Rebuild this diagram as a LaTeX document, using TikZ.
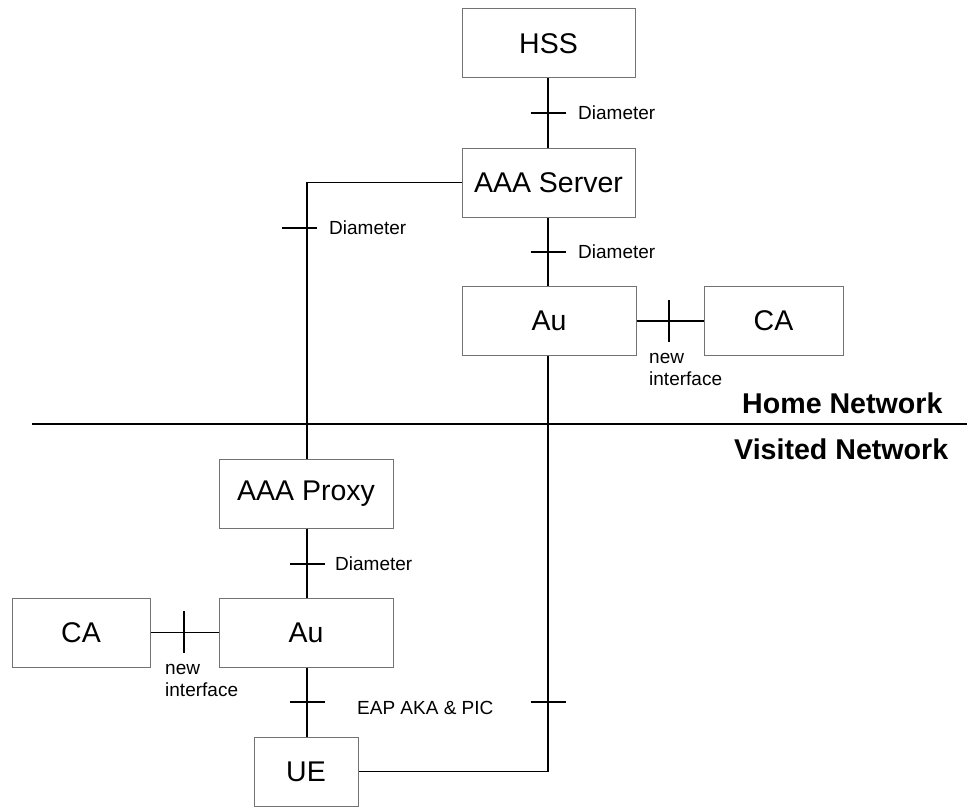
\documentclass[tikz,border=0pt]{standalone}
\usepackage{fontspec}
\setmainfont{Liberation Sans}
\usetikzlibrary{calc}
\begin{document}
\begin{tikzpicture}[x=1pt,y=-1pt,
  box/.style={draw=black!55,line width=1pt,inner sep=0pt,minimum height=69pt,font=\fontsize{28.5}{32}\selectfont},
  conn/.style={draw=black,line width=1.3pt},
  tickh/.style={draw=black,line width=1.3pt},
  lbl/.style={font=\fontsize{19}{22}\selectfont,inner sep=0pt,anchor=west},
  net/.style={font=\fontsize{28.6}{30}\selectfont\bfseries,inner sep=0pt,anchor=west}]
\useasboundingbox (0,0) rectangle (967,808);
% boxes
\node[box,minimum width=173pt] (hss) at (548.5,43.5) {HSS};
\node[box,minimum width=173pt] (aaa) at (548.5,182.5) {AAA Server};
\node[box,minimum width=174pt] (auh) at (549,321) {Au};
\node[box,minimum width=139pt] (cah) at (773.5,321) {CA};
\node[box,minimum width=174pt] (proxy) at (306,493.5) {AAA Proxy};
\node[box,minimum width=174pt] (auv) at (306,632.5) {Au};
\node[box,minimum width=138pt] (cav) at (81,632.5) {CA};
\node[box,minimum width=104pt] (ue) at (306,771.5) {UE};
% separator
\coordinate (sepL) at (32,424);
\coordinate (sepR) at (967,424);
\draw[draw=black,line width=2pt] (sepL) -- (sepR);
% corner coordinates
\coordinate (c1) at (307,182.5);
\coordinate (c2) at (548,771.5);
% connectors
\draw[conn] (hss.south -| 548,0) -- (aaa.north -| 548,0);
\draw[conn] (aaa.south -| 548,0) -- (auh.north -| 548,0);
\draw[conn] (aaa.west) -- (c1) -- (proxy.north -| 307,0);
\draw[conn] (auh.east) -- (cah.west);
\draw[conn] (auh.south -| 548,0) -- (c2) -- (ue.east);
\draw[conn] (proxy.south -| 307,0) -- (auv.north -| 307,0);
\draw[conn] (cav.east) -- (auv.west);
\draw[conn] (auv.south -| 307,0) -- (ue.north -| 307,0);
% ticks
\coordinate (t1) at (548,113);
\coordinate (t2) at (548,252);
\coordinate (t3) at (307,228);
\coordinate (t4) at (307,564);
\coordinate (t5) at (307,702);
\coordinate (t6) at (548,702);
\coordinate (t7) at (669,321);
\coordinate (t8) at (184,632);
\foreach \t in {t1,t2,t4,t5,t6}
  \draw[tickh] ($(\t)+(-17.5,0)$) -- ($(\t)+(17.5,0)$);
\draw[tickh] ($(t3)+(-25,0)$) -- ($(t3)+(10,0)$);
\foreach \t in {t7,t8}
  \draw[tickh] ($(\t)+(0,-21)$) -- ($(\t)+(0,21)$);
% labels
\node[lbl] (l1) at (578,113) {Diameter};
\node[lbl] (l2) at (578,252) {Diameter};
\node[lbl] (l3) at (329,228) {Diameter};
\node[lbl] (l4) at (335,564) {Diameter};
\node[lbl,align=left] (l5) at (649,369) {new\\interface};
\node[lbl,align=left] (l6) at (165,680) {new\\interface};
\node[lbl] (l7) at (357,708) {EAP AKA \& PIC};
\node[net] (home) at (742,403) {Home Network};
\node[net] (visited) at (734,449) {Visited Network};
\end{tikzpicture}
\end{document}
